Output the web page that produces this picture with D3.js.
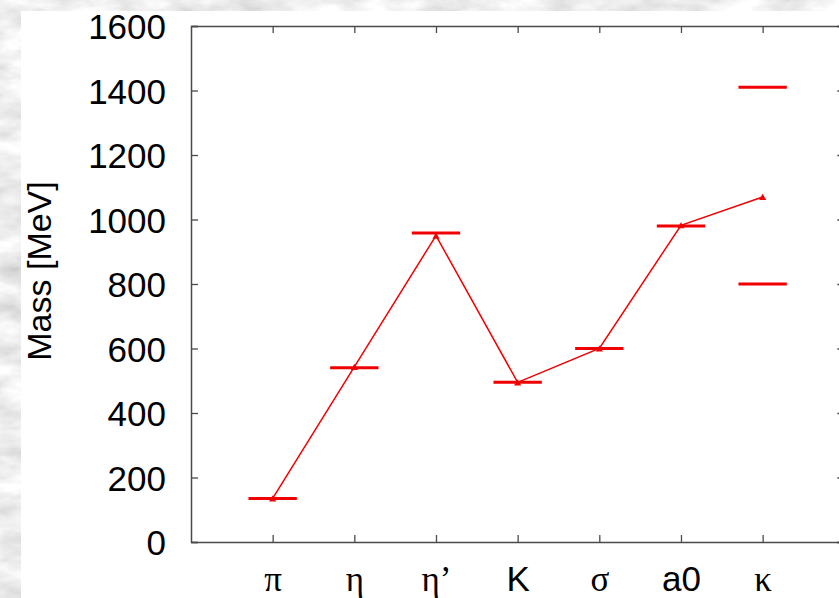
<!DOCTYPE html>
<html>
<head>
<meta charset="utf-8">
<script src="https://cdn.jsdelivr.net/npm/d3@7"></script>
<style>
  html, body { margin: 0; padding: 0; background: #d9d9d9; }
  svg { display: block; }
</style>
</head>
<body>
<svg id="chart" width="839" height="598"></svg>
<script>
// Meson categories along the x axis
const categories = ["π", "η", "η’", "K", "σ", "a0", "κ"];

// Experimental masses (horizontal bars); κ is shown as a range with two bars
const expCategory = ["π", "η", "η’", "K", "σ", "a0", "κ", "κ"];
const expMass     = [135, 540, 958, 495, 600, 980, 800, 1410];

// Model masses (line with triangle markers)
const modelMass = [135, 543, 950, 495, 600, 982, 1070];

// Y axis ticks
const yTicks = [0, 200, 400, 600, 800, 1000, 1200, 1400, 1600];
const yLabel = "Mass [MeV]";

const W = 839, H = 598;
const svg = d3.select("#chart");

// Marbled slide background
const defs = svg.append("defs");
const marble = defs.append("filter").attr("id", "marble")
  .attr("x", 0).attr("y", 0).attr("width", "100%").attr("height", "100%");
marble.append("feTurbulence")
  .attr("type", "fractalNoise")
  .attr("baseFrequency", "0.022 0.05")
  .attr("numOctaves", 4)
  .attr("seed", 7)
  .attr("result", "noise");
marble.append("feColorMatrix")
  .attr("in", "noise")
  .attr("type", "matrix")
  .attr("values",
    "0.6 0 0 0 0.55 " +
    "0.6 0 0 0 0.55 " +
    "0.6 0 0 0 0.55 " +
    "0 0 0 0 1");
svg.append("rect").attr("width", W).attr("height", H).attr("fill", "#d6d6d6");
svg.append("rect").attr("width", W).attr("height", H).attr("filter", "url(#marble)");

// White panel holding the plot
svg.append("rect")
  .attr("x", 21).attr("y", 11)
  .attr("width", W - 21).attr("height", H - 11)
  .attr("fill", "#ffffff");

// Scales: categories sit at integer positions 1..7 of a 0..8 frame
const x = d3.scaleLinear().domain([0, categories.length + 1]).range([191, 844.3]);
const y = d3.scaleLinear().domain([0, 1600]).range([542, 26]);
const catPos = c => x(categories.indexOf(c) + 1);

const axisColor = "#4a4a4a";
const tickLen = 7;
const sansFont = "'Liberation Sans', Arial, sans-serif";
const serifFont = "'Liberation Serif', 'Times New Roman', serif";

// Left axis
const leftAxis = d3.axisLeft(y).tickValues(yTicks).tickSize(-tickLen)
  .tickPadding(25).tickFormat(d3.format("d"));
const gL = svg.append("g").attr("transform", `translate(${x(0)},0)`).call(leftAxis);
gL.select(".domain").attr("stroke", axisColor).attr("stroke-width", 1.5);
gL.selectAll(".tick line").attr("stroke", axisColor).attr("stroke-width", 1.3);
gL.selectAll(".tick text")
  .attr("fill", "#000").attr("font-family", sansFont).attr("font-size", 35)
  .attr("dy", "0.36em");

// Right axis (mirror ticks)
const rightAxis = d3.axisRight(y).tickValues(yTicks).tickSize(-tickLen).tickFormat("");
const gR = svg.append("g").attr("transform", `translate(${x(categories.length + 1)},0)`).call(rightAxis);
gR.select(".domain").attr("stroke", axisColor).attr("stroke-width", 1.5);
gR.selectAll(".tick line").attr("stroke", axisColor).attr("stroke-width", 1.3);

// Bottom axis
const bottomAxis = d3.axisBottom(x)
  .tickValues(d3.range(1, categories.length + 1))
  .tickSize(-tickLen).tickSizeOuter(0)
  .tickFormat(i => categories[i - 1]);
const gB = svg.append("g").attr("transform", `translate(0,${y(0)})`).call(bottomAxis);
gB.select(".domain").attr("stroke", axisColor).attr("stroke-width", 1.5);
gB.selectAll(".tick line").attr("stroke", axisColor).attr("stroke-width", 1.3);
gB.selectAll(".tick text")
  .attr("fill", "#000").attr("font-size", 35)
  .attr("y", 49).attr("dy", 0)
  .attr("font-family", (i) => /^[a-zA-Z0-9]/.test(categories[i - 1]) ? sansFont : serifFont);

// Top axis (mirror ticks)
const topAxis = d3.axisTop(x)
  .tickValues(d3.range(1, categories.length + 1))
  .tickSize(-tickLen).tickSizeOuter(0).tickFormat("");
const gT = svg.append("g").attr("transform", `translate(0,${y(1600)})`).call(topAxis);
gT.select(".domain").attr("stroke", axisColor).attr("stroke-width", 1.5);
gT.selectAll(".tick line").attr("stroke", axisColor).attr("stroke-width", 1.3);

// Y axis title
svg.append("text")
  .attr("transform", `translate(51,271) rotate(-90)`)
  .attr("text-anchor", "middle")
  .attr("font-family", sansFont).attr("font-size", 34)
  .attr("fill", "#000")
  .text(yLabel);

const red = "#f00000";

// Experimental bars
const halfWidth = 0.296;
svg.append("g").selectAll("line")
  .data(expMass.map((m, i) => ({ c: expCategory[i], m })))
  .join("line")
  .attr("x1", d => x(categories.indexOf(d.c) + 1 - halfWidth))
  .attr("x2", d => x(categories.indexOf(d.c) + 1 + halfWidth))
  .attr("y1", d => y(d.m)).attr("y2", d => y(d.m))
  .attr("stroke", red).attr("stroke-width", 3);

// Model line
const pts = modelMass.map((m, i) => ({ c: categories[i], m }));
svg.append("path")
  .datum(pts)
  .attr("fill", "none").attr("stroke", red).attr("stroke-width", 1.5)
  .attr("d", d3.line().x(d => catPos(d.c)).y(d => y(d.m)));

// Triangle markers
svg.append("g").selectAll("path")
  .data(pts)
  .join("path")
  .attr("transform", d => `translate(${catPos(d.c)},${y(d.m) + 1})`)
  .attr("d", d3.symbol(d3.symbolTriangle, 22))
  .attr("fill", red);
</script>
</body>
</html>
